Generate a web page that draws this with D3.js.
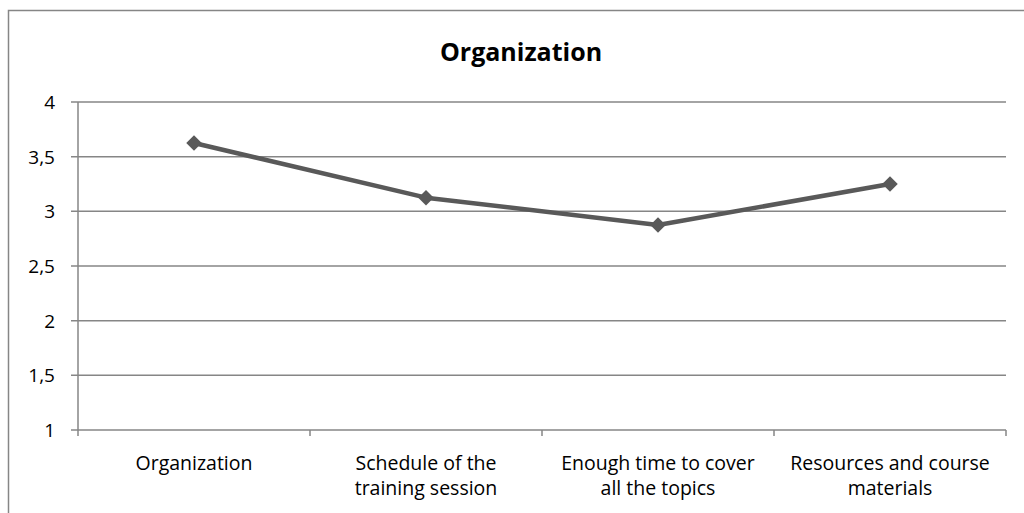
<!DOCTYPE html>
<html>
<head>
<meta charset="utf-8">
<script src="https://cdnjs.cloudflare.com/ajax/libs/d3/7.8.5/d3.min.js"></script>
<style>
body { margin: 0; background: #fff; }
text { font-family: "Open Sans", "Liberation Sans", sans-serif; fill: #000; }
</style>
</head>
<body>
<svg width="1024" height="513"></svg>
<script>
// data
const categories = [
  ["Organization"],
  ["Schedule of the", "training session"],
  ["Enough time to cover", "all the topics"],
  ["Resources and course", "materials"]
]
const values = [3.625, 3.125, 2.875, 3.25]
const yTicks = [1, 1.5, 2, 2.5, 3, 3.5, 4]

const svg = d3.select("svg")
const plotL = 78, plotR = 1006, plotT = 102, plotB = 430

// outer frame
svg.append("rect")
  .attr("x", 8.5).attr("y", 10.5)
  .attr("width", 1030).attr("height", 520)
  .attr("fill", "none").attr("stroke", "#868686").attr("stroke-width", 1.5)

svg.append("text")
  .attr("x", 521).attr("y", 61)
  .attr("text-anchor", "middle")
  .style("font-size", "25px").style("font-weight", "bold")
  .text("Organization")

const x = d3.scaleBand().domain(d3.range(categories.length)).range([plotL, plotR])
const y = d3.scaleLinear().domain([1, 4]).range([plotB, plotT])

// gridlines
svg.selectAll(".grid").data(yTicks.filter(d => d > 1)).join("line")
  .attr("x1", plotL - 7).attr("x2", plotR)
  .attr("y1", d => y(d)).attr("y2", d => y(d))
  .attr("stroke", "#868686").attr("stroke-width", 1.5)

// y axis
svg.append("line").attr("x1", plotL).attr("x2", plotL).attr("y1", plotT).attr("y2", plotB)
  .attr("stroke", "#868686").attr("stroke-width", 1.5)
svg.selectAll(".yl").data(yTicks).join("text")
  .attr("x", 55).attr("y", d => y(d) + 7)
  .attr("text-anchor", "end")
  .style("font-size", "19px")
  .text(d => String(d).replace(".", ","))

// x axis
svg.append("line").attr("x1", plotL - 7).attr("x2", plotR).attr("y1", plotB).attr("y2", plotB)
  .attr("stroke", "#868686").attr("stroke-width", 1.5)
const bounds = d3.range(categories.length).map(i => x(i)).concat([plotR])
svg.selectAll(".xt").data(bounds).join("line")
  .attr("x1", d => d).attr("x2", d => d).attr("y1", plotB).attr("y2", plotB + 6)
  .attr("stroke", "#868686").attr("stroke-width", 1.5)

// one text per label line
categories.forEach((lines, i) => {
  lines.forEach((t, j) => {
    svg.append("text")
      .attr("x", x(i) + x.bandwidth() / 2)
      .attr("y", plotB + 40 + j * 25)
      .attr("text-anchor", "middle")
      .style("font-size", "19.5px")
      .text(t)
  })
})

// series
const cx = i => x(i) + x.bandwidth() / 2
svg.append("path")
  .datum(values)
  .attr("fill", "none").attr("stroke", "#595959").attr("stroke-width", 4.5)
  .attr("stroke-linejoin", "round")
  .attr("d", d3.line().x((d, i) => cx(i)).y(d => y(d)))

svg.selectAll(".pt").data(values).join("path")
  .attr("d", d3.symbol(d3.symbolSquare, 120)())
  .attr("transform", (d, i) => `translate(${cx(i)},${y(d)}) rotate(45)`)
  .attr("fill", "#595959")
</script>
</body>
</html>
